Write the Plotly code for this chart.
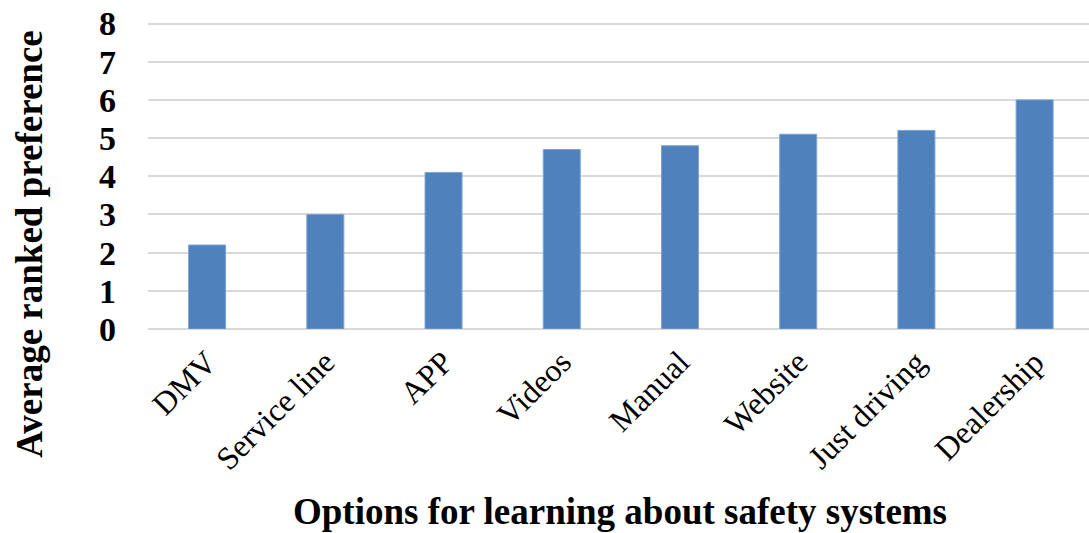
import plotly.graph_objects as go

# Data
categories = ["DMV", "Service line", "APP", "Videos", "Manual",
              "Website", "Just driving", "Dealership"]
avg_pref = [2.2, 3.0, 4.1, 4.7, 4.8, 5.1, 5.2, 6.0]
y_ticks = [0, 1, 2, 3, 4, 5, 6, 7, 8]

FONT = "Liberation Serif, Times New Roman, serif"
BAR_COLOR = "#4f81bd"
GRID_COLOR = "#d9d9d9"

fig = go.Figure(go.Bar(
    x=categories,
    y=avg_pref,
    marker=dict(color=BAR_COLOR, line=dict(color="#7ea3d3", width=1)),
))

fig.update_xaxes(
    range=[-0.5, 7.46],
    tickangle=-45,
    tickfont=dict(family=FONT, size=32, color="black"),
    ticklabelstandoff=7,
    showline=False,
    automargin=False,
)
fig.update_yaxes(
    range=[0, 8.04],
    tickvals=y_ticks,
    tickfont=dict(family=FONT, size=34, color="black", weight="bold"),
    ticklabelstandoff=31,
    showgrid=True, gridcolor=GRID_COLOR, gridwidth=2,
    zeroline=True, zerolinecolor=GRID_COLOR, zerolinewidth=2,
    automargin=False,
)

# axis titles placed as annotations to match the reference offsets
fig.add_annotation(
    text="<b>Average ranked preference</b>",
    xref="paper", yref="paper", x=-0.1254, y=0.278,
    xanchor="center", yanchor="middle", textangle=-90, showarrow=False,
    font=dict(family=FONT, size=37, color="black"),
)
fig.add_annotation(
    text="<b>Options for learning about safety systems</b>",
    xref="paper", yref="paper", x=0.5016, y=-0.596,
    xanchor="center", yanchor="middle", showarrow=False,
    font=dict(family=FONT, size=37, color="black"),
)

fig.update_layout(
    width=1089, height=533,
    margin=dict(l=148, r=0, t=22, b=204),
    plot_bgcolor="white", paper_bgcolor="white",
    bargap=0.687,
    showlegend=False,
)

# drop the default page margin so the figure sits at the window's corner
fig.write_html("out.html", config={"displayModeBar": False},
               post_script="document.body.style.margin='0';")
